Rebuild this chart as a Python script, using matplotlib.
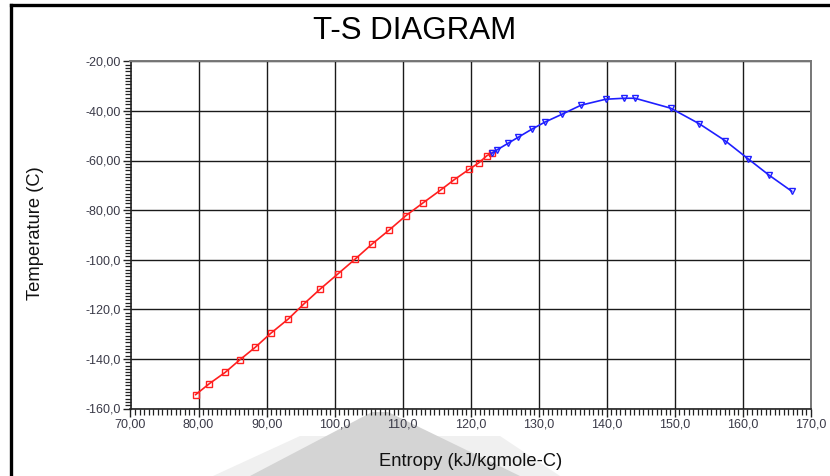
import matplotlib
matplotlib.use("Agg")
import matplotlib.pyplot as plt
from matplotlib.ticker import AutoMinorLocator, FixedLocator
from matplotlib.patches import Polygon
from matplotlib.lines import Line2D

# ---- data ----
liquid_s = [79.58, 81.58, 83.93, 86.05, 88.34, 90.60, 93.19, 95.45, 97.89, 100.45,
            102.99, 105.49, 108.03, 110.49, 113.03, 115.58, 117.54, 119.74, 121.21,
            122.35, 123.17]
liquid_t = [-154.4, -150.0, -145.4, -140.4, -135.3, -129.7, -123.9, -117.9, -111.8, -105.8,
            -99.8, -93.7, -88.0, -82.2, -77.0, -71.9, -67.8, -63.6, -60.9,
            -58.1, -56.9]

vapour_s = [123.17, 123.81, 125.52, 126.99, 128.96, 130.91, 133.45, 136.20, 139.83,
            142.52, 144.14, 149.38, 153.59, 157.37, 160.70, 163.83, 167.17]
vapour_t = [-56.9, -55.8, -53.0, -50.6, -47.4, -44.5, -41.3, -37.7, -35.3,
            -34.9, -34.9, -38.9, -45.2, -52.0, -59.2, -65.9, -72.4]

x_ticks = [70, 80, 90, 100, 110, 120, 130, 140, 150, 160, 170]
x_tick_labels = ["70,00", "80,00", "90,00", "100,0", "110,0", "120,0", "130,0",
                 "140,0", "150,0", "160,0", "170,0"]
y_ticks = [-20, -40, -60, -80, -100, -120, -140, -160]
y_tick_labels = ["-20,00", "-40,00", "-60,00", "-80,00", "-100,0", "-120,0",
                 "-140,0", "-160,0"]

title = "T-S DIAGRAM"
x_label = "Entropy (kJ/kgmole-C)"
y_label = "Temperature (C)"

# ---- figure ----
W, H = 830, 476
fig = plt.figure(figsize=(W / 100, H / 100), dpi=100)
fig.patch.set_facecolor("white")
plt.rcParams['font.family'] = ['Liberation Sans', 'DejaVu Sans']

def px(x, y):
    return (x / W, 1 - y / H)

ax = fig.add_axes([130.5 / W, 1 - 408.5 / H, (811 - 130.5) / W, (408.5 - 61.3) / H])
ax.set_facecolor("white")

ax.plot(liquid_s, liquid_t, color="#ff1f1f", lw=1.2, marker="s", markersize=4.5,
        markerfacecolor="none", markeredgecolor="#ff1f1f", markeredgewidth=1.0, zorder=3)
ax.plot(vapour_s, vapour_t, color="#1f1fff", lw=1.2, marker="v", markersize=5,
        markerfacecolor="none", markeredgecolor="#1f1fff", markeredgewidth=1.0, zorder=3)

ax.set_xlim(70, 170)
ax.set_ylim(-160, -20)
ax.xaxis.set_major_locator(FixedLocator(x_ticks))
ax.set_xticklabels(x_tick_labels)
ax.yaxis.set_major_locator(FixedLocator(y_ticks))
ax.set_yticklabels(y_tick_labels)
ax.xaxis.set_minor_locator(AutoMinorLocator(15))
ax.yaxis.set_minor_locator(AutoMinorLocator(15))

ax.tick_params(axis="both", which="major", direction="out", length=6, width=1.0,
               color="#222222", labelsize=9, labelcolor="#3a3a48")
ax.tick_params(axis="both", which="minor", direction="out", length=4, width=0.9,
               color="#222222")
ax.tick_params(axis="x", which="major", pad=1)
ax.tick_params(axis="y", which="major", pad=1)

ax.grid(True, which="major", color="#1a1a1a", lw=1.0)
ax.set_axisbelow(True)
for side in ["left", "bottom"]:
    ax.spines[side].set_color("#222222")
    ax.spines[side].set_linewidth(1.2)
for side in ["top", "right"]:
    ax.spines[side].set_color("#777777")
    ax.spines[side].set_linewidth(1.4)

# titles / labels
fig.text(*px(415, 31), title, ha="center", va="center", fontsize=22.5, color="black")
fig.text(*px(471, 461), x_label, ha="center", va="center", fontsize=13.2, color="#111111")
fig.text(*px(35, 233), y_label, ha="center", va="center", rotation=90,
         fontsize=13.2, color="#111111")

# outer frame (top and left edges)
fig.add_artist(Line2D([11 / W, 1.0], [1 - 5 / H, 1 - 5 / H], color="black", lw=2.4,
                      transform=fig.transFigure))
fig.add_artist(Line2D([11 / W, 11 / W], [0, 1 - 5 / H], color="black", lw=2.4,
                      transform=fig.transFigure))

# gray overlay shape at the bottom
light = Polygon([px(213, 476), px(300, 436), px(500, 436), px(560, 476)],
                closed=True, facecolor="#f0f0f0", edgecolor="none",
                transform=fig.transFigure, zorder=-2)
dark = Polygon([px(250, 476), px(372, 412), px(388, 412), px(520, 476)],
               closed=True, facecolor="#d4d4d4", edgecolor="none",
               transform=fig.transFigure, zorder=-1)
fig.add_artist(light)
fig.add_artist(dark)

fig.savefig("out.png", dpi=100, facecolor="white")
